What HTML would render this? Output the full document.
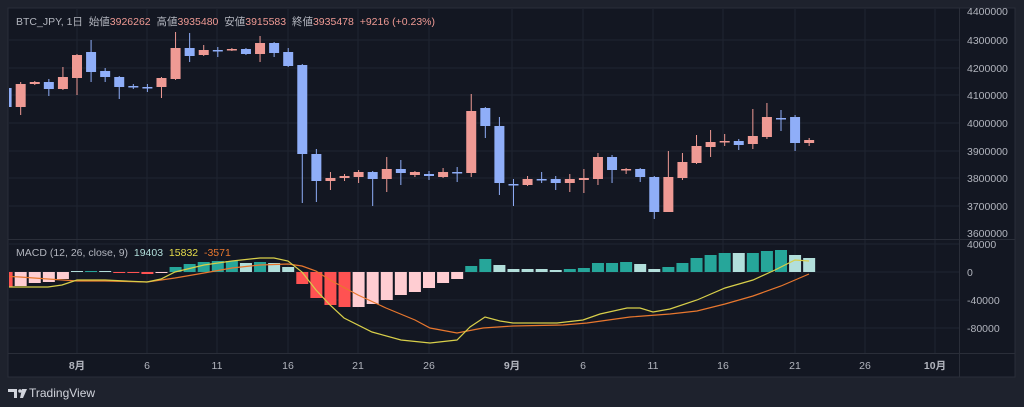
<!DOCTYPE html>
<html><head><meta charset="utf-8"><style>
html,body{margin:0;padding:0;background:#1e222d;width:1024px;height:407px;overflow:hidden}
svg{display:block}
text{font-family:"Liberation Sans","Noto Sans CJK JP",sans-serif}
</style></head><body>
<svg id="s" width="1024" height="407" xmlns="http://www.w3.org/2000/svg"></svg>
<script>
const S=document.getElementById('s');let h='';
h+='<rect x="0" y="0" width="1024" height="407" fill="#1e222d"/>';
h+='<rect x="8" y="8" width="1007" height="369" fill="#131722"/>';
h+='<rect x="8" y="8" width="1007" height="369" fill="none" stroke="#2a2e39" stroke-width="1"/>';
const vx=[77,147,217,288,358,429,512,583,653,723,795,865,935];
vx.forEach(x=>h+=`<line x1="${x}" y1="9" x2="${x}" y2="353" stroke="#1f2431"/>`);
[40,68,95,123,151,178,206].forEach(y=>h+=`<line x1="9" y1="${y}" x2="959" y2="${y}" stroke="#1f2431"/>`);
[244,272,300,328].forEach(y=>h+=`<line x1="9" y1="${y}" x2="959" y2="${y}" stroke="#1f2431"/>`);
h+='<line x1="8" y1="239.5" x2="1015" y2="239.5" stroke="#2a2e39"/>';
h+='<line x1="959.5" y1="8" x2="959.5" y2="377" stroke="#2a2e39"/>';
h+='<line x1="8" y1="353.5" x2="1015" y2="353.5" stroke="#2a2e39"/>';
const C=[[88,107,86,110,0],[84,107,82,115,1],[82,84,81,85,1],[82,89,79,96,0],[77,89,67,90,1],[55,78,54,95,1],[52,72,40,82,0],[71,77,68,82,0],[77,87,76,99,0],[86,87,84,89,0],[87,88,84,92,0],[78,87,77,98,1],[48,79,32,80,1],[48,56,33,62,0],[50,55,45,56,1],[50,51,47,57,0],[49,50,48,51,1],[49,54,48,55,0],[43,54,36,62,1],[43,53,42,57,0],[52,66,48,67,0],[65,154,64,203,0],[154,181,149,202,0],[178,181,172,190,1],[176,178,174,181,1],[172,177,170,183,1],[172,179,171,206,0],[169,179,157,192,1],[169,173,160,185,0],[172,175,171,177,1],[174,176,171,180,0],[172,177,168,178,1],[172,173,167,182,0],[111,173,94,177,1],[108,126,107,138,0],[126,183,117,195,0],[184,185,179,206,0],[179,185,176,186,1],[179,180,172,183,0],[179,183,176,190,0],[179,183,174,192,1],[178,180,169,193,1],[157,179,153,185,1],[157,170,155,183,0],[169,170,168,174,1],[169,177,168,182,0],[177,212,176,219,0],[177,212,151,212,1],[162,178,153,180,1],[146,163,135,164,1],[142,147,130,157,1],[141,142,134,146,1],[141,145,139,150,0],[136,144,109,149,1],[117,137,103,139,1],[118,119,110,131,0],[117,143,115,151,0],[140,143,138,146,1]];
const X=i=>6.6+14.08*i;
h+='<g clip-path="url(#c)"><defs><clipPath id="c"><rect x="9" y="9" width="950" height="344"/></clipPath></defs>';
C.forEach((c,i)=>{const x=X(i);const col=c[4]?'#ef9a94':'#8faef8';
h+=`<line x1="${x}" y1="${c[2]}" x2="${x}" y2="${c[3]}" stroke="${col}" stroke-width="1"/>`;
h+=`<rect x="${x-5}" y="${c[0]}" width="10" height="${Math.max(1.5,c[1]-c[0])}" fill="${col}"/>`;});
const P='#ffcdd2',R='#ff5252',T='#26a69a',L='#b2dfdb';
const H=[[287,R],[286,P],[283,P],[282,P],[279,P],[271,L],[271,T],[271,L],[273,R],[273,R],[274,R],[273,P],[267,T],[264,T],[262,T],[261,T],[261,T],[263,L],[262,T],[263,L],[267,L],[284,R],[298,R],[305,R],[307,R],[307,P],[304,P],[300,P],[295,P],[292,P],[288,P],[283,P],[279,P],[266,T],[259,T],[265,L],[269,L],[269,L],[269,L],[270,L],[269,T],[268,T],[263,T],[263,T],[262,T],[264,L],[269,L],[267,T],[263,T],[258,T],[255,T],[253,T],[253,L],[253,T],[251,T],[250,T],[255,L],[258,L]];
H.forEach((b,i)=>{const x=X(i);const y=Math.min(b[0],272),hh=Math.max(1,Math.abs(b[0]-272));
h+=`<rect x="${x-6}" y="${y}" width="12" height="${hh}" fill="${b[1]}"/>`;});
const Y=[[0,287],[20,287],[48,287],[62,285],[77,280],[105,280],[147,282],[161,279],[175,272],[204,265],[232,261],[260,258],[274,258],[288,261],[302,272],[316,290],[330,305],[344,318],[372,332],[401,340],[430,343],[457,340],[470,327],[485,317],[500,321],[513,323],[557,323],[583,320],[600,314],[627,308],[640,308],[653,312],[670,309],[697,300],[725,288],[753,280],[775,270],[795,260],[809,261]];
const O=[[0,276],[20,277],[48,279],[77,281],[105,281],[147,282],[175,278],[204,273],[232,268],[260,265],[288,264],[302,266],[316,271],[330,280],[358,295],[386,308],[415,320],[430,328],[457,333],[483,328],[513,326],[563,325],[587,323],[630,317],[670,314],[697,311],[725,304],[753,296],[781,286],[795,280],[809,274]];
h+=`<polyline points="${O.map(p=>p.join(',')).join(' ')}" fill="none" stroke="#e8772e" stroke-width="1.2"/>`;
h+=`<polyline points="${Y.map(p=>p.join(',')).join(' ')}" fill="none" stroke="#d8cf4a" stroke-width="1.2"/>`;
h+='</g>';
const pl=[[11,'4400000'],[40,'4300000'],[68,'4200000'],[95,'4100000'],[123,'4000000'],[151,'3900000'],[178,'3800000'],[206,'3700000'],[233,'3600000']];
pl.forEach(p=>h+=`<text x="967" y="${p[0]+4}" font-size="10.5" fill="#b2b5be">${p[1]}</text>`);
[[244,'40000'],[272,'0'],[300,'-40000'],[328,'-80000']].forEach(p=>h+=`<text x="967" y="${p[0]+4}" font-size="10.5" fill="#b2b5be">${p[1]}</text>`);
const tl=['8月','6','11','16','21','26','9月','6','11','16','21','26','10月'];
tl.forEach((t,i)=>h+=`<text x="${vx[i]}" y="369" font-size="10.5" fill="#b2b5be" text-anchor="middle" ${t.includes('月')?'font-weight="bold"':''}>${t}</text>`);
h+=`<text x="16" y="25" font-size="10.5" fill="#b2b5be">BTC_JPY, 1日&#160;&#160;始値<tspan fill="#ef9a94">3926262</tspan>&#160;&#160;高値<tspan fill="#ef9a94">3935480</tspan>&#160;&#160;安値<tspan fill="#ef9a94">3915583</tspan>&#160;&#160;終値<tspan fill="#ef9a94">3935478</tspan>&#160;&#160;<tspan fill="#ef9a94">+9216 (+0.23%)</tspan></text>`;
h+=`<text x="16" y="256" font-size="10.5" fill="#b2b5be">MACD (12, 26, close, 9)&#160;&#160;<tspan fill="#b2dfdb">19403</tspan>&#160;&#160;<tspan fill="#e6dc4b">15832</tspan>&#160;&#160;<tspan fill="#e8772e">-3571</tspan></text>`;
h+='<path d="M8 389h9v9h-3v-6h-6z" fill="#d1d4dc"/><circle cx="20" cy="391" r="1.8" fill="#d1d4dc"/><path d="M22 389h5l-4 9h-3z" fill="#d1d4dc"/>';
h+='<text x="29" y="397" font-size="12" fill="#d1d4dc">TradingView</text>';
S.innerHTML=h;
</script>
</body></html>
